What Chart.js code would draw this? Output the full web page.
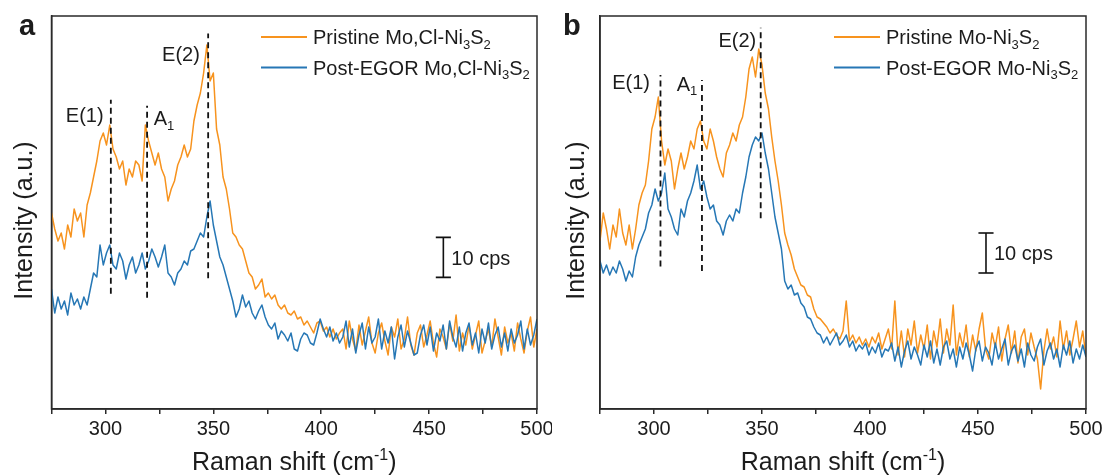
<!DOCTYPE html>
<html>
<head>
<meta charset="utf-8">
<script src="https://cdn.jsdelivr.net/npm/chart.js@4.4.1/dist/chart.umd.min.js"></script>
<style>
html,body{margin:0;padding:0;background:#fff;}
#wrap{position:relative;width:1107px;height:475px;overflow:hidden;background:#fff;}
#pa{position:absolute;left:0;top:0;width:552px;height:475px;background:#fff;}
#pb{position:absolute;left:552px;top:0;width:555px;height:475px;background:#fff;}
canvas{display:block;}
</style>
</head>
<body>
<div id="wrap">
  <div id="pa"><canvas id="ca" width="552" height="475"></canvas></div>
  <div id="pb"><canvas id="cb" width="555" height="475"></canvas></div>
</div>
<script>
// ---------------- DATA ----------------
const ramanShift = [275, 276.5, 278, 279.5, 281, 282.5, 284, 285.5, 287, 288.5,
  290, 291.5, 293, 294.5, 296, 297.5, 299, 300.5, 302, 303.5,
  305, 306.5, 308, 309.5, 311, 312.5, 314, 315.5, 317, 318.5,
  320, 321.5, 323, 324.5, 326, 327.5, 329, 330.5, 332, 333.5,
  335, 336.5, 338, 339.5, 341, 342.5, 344, 345.5, 347, 348.5,
  350, 351.5, 353, 354.5, 356, 357.5, 359, 360.5, 362, 363.5,
  365, 366.5, 368, 369.5, 371, 372.5, 374, 375.5, 377, 378.5,
  380, 381.5, 383, 384.5, 386, 387.5, 389, 390.5, 392, 393.5,
  395, 396.5, 398, 399.5, 401, 402.5, 404, 405.5, 407, 408.5,
  410, 411.5, 413, 414.5, 416, 417.5, 419, 420.5, 422, 423.5,
  425, 426.5, 428, 429.5, 431, 432.5, 434, 435.5, 437, 438.5,
  440, 441.5, 443, 444.5, 446, 447.5, 449, 450.5, 452, 453.5,
  455, 456.5, 458, 459.5, 461, 462.5, 464, 465.5, 467, 468.5,
  470, 471.5, 473, 474.5, 476, 477.5, 479, 480.5, 482, 483.5,
  485, 486.5, 488, 489.5, 491, 492.5, 494, 495.5, 497, 498.5, 500];

// Panel a (Mo,Cl-Ni3S2), intensity in cps (arbitrary offset)
const pristineA = [49, 45, 42, 44, 40, 46, 43, 50, 47, 49,
  43, 51, 54, 58, 62, 67, 69, 66, 71, 65,
  63, 60, 62, 56, 60, 58, 62, 61, 57, 71,
  67, 64, 61, 64, 60, 58, 52, 55, 57, 61,
  63, 66, 63, 65, 72, 76, 79, 84, 91, 82,
  84, 70, 66, 58, 55, 50, 44, 43, 41, 40,
  37, 34, 33, 30, 31, 32.5, 28, 29, 27.5, 28.5,
  26, 25, 26, 24, 23.5, 24.5, 22.5, 23, 21, 22,
  20.5, 19, 21.5, 22, 19.5, 20.5, 18, 20, 17.5, 19,
  20, 15, 22, 17.5, 14.5, 21, 16, 19.5, 23, 16.5,
  14, 19, 21.5, 17, 13.5, 20.5, 18, 22.5, 15, 17.5,
  23, 16, 13.5, 19, 21, 15.5, 18.5, 22, 16.5, 13,
  20, 18, 15, 21.5, 17, 23.5, 14.5, 19, 16, 21,
  15, 18.5, 22, 14, 17, 20, 15.5, 22.5, 18, 13.5,
  20.5, 16.5, 19, 14.5, 21.5, 17.5, 14, 19.5, 23, 15.5, 20];
const postA = [30, 24, 28, 25, 27, 23.5, 29, 26, 27.5, 25,
  28, 26, 30, 34, 33, 41, 36, 39, 41, 36,
  35, 39, 37, 32.5, 36, 38, 34, 36, 39, 35,
  37, 40, 38, 35.5, 38, 41, 34, 33, 31, 34,
  35, 37, 36, 39.5, 40, 42, 44, 43, 48, 52,
  46, 42, 38, 36, 33, 30, 27, 23, 25, 28.5,
  25.5, 27, 24, 22.5, 24.5, 26, 23, 21, 20, 21.5,
  17.5, 19.5, 18.5, 17, 19, 15, 14.5, 17.5, 19, 18.5,
  16.5, 16, 19, 22.5, 20, 18, 20.5, 17, 19, 16.5,
  18, 22, 15.5, 20, 14, 18.5, 21.5, 15, 20.5, 16.5,
  18, 22.5, 15, 19.5, 16.5, 20.5, 12.5, 18, 21, 15.5,
  19.5, 16.5, 13.5, 14, 18.5, 21, 16, 20.5, 14.5, 19,
  17, 21, 15, 22, 18, 15.5, 20.5, 14.5, 19, 21.5,
  16, 19, 14, 20, 16.5, 21.5, 15, 18.5, 20.5, 15.5,
  19, 14.5, 20, 16.5, 18.5, 22, 15, 20, 16, 18.5, 22.5];

// Panel b (Mo-Ni3S2)
const pristineB = [42, 49, 45, 40, 46, 43, 50, 44, 41, 46,
  40, 45, 51, 54, 56, 62, 70, 73, 78, 67,
  61, 65, 62, 55, 60, 64, 60, 63, 67, 65,
  70, 72, 67, 65, 70, 67, 63, 60, 58, 64,
  66, 69, 67, 71, 73, 78, 85, 88, 83, 90,
  86, 79, 75, 68, 62, 57, 51, 44, 41, 38.5,
  35, 33, 31, 30.5, 28.5, 28, 25, 23, 22.5, 21.5,
  20.5, 19, 20, 18.5, 17.5, 19.5, 27, 17, 18.5, 16.5,
  18, 16, 17.5, 15.5, 18, 16.5, 19, 15, 17.5, 20,
  15, 27, 13.5, 19.5, 13, 20, 16, 22, 14, 18.5,
  15, 21, 12.5, 19.5, 15.5, 22.5, 14, 20, 16, 26,
  13.5, 19, 15.5, 21, 13, 18.5, 14.5, 20, 24, 15,
  12.5, 19, 15.5, 20.5, 12, 17.5, 21, 14, 19.5, 11.5,
  18, 20, 13.5, 19, 15.5, 12.5, 5, 14.5, 20, 15,
  18, 13, 22, 15, 19.5, 13.5, 17.5, 22, 15.5, 19.5, 13];
const postB = [37, 34, 36, 33.5, 35.5, 34, 37, 35, 32, 34.5,
  33, 38, 41, 43, 45, 49, 51, 55, 52, 54,
  59, 50, 48, 45, 43.5, 50, 48, 52, 54, 57,
  61, 55, 57, 53, 50, 51, 47, 46, 43.5, 47,
  48.5, 47, 50, 49, 54, 58, 63, 66, 68, 67,
  69, 64, 60, 54, 48, 44, 40, 32, 30, 31,
  28.5, 29, 26.5, 25.5, 23, 22.5, 20.5, 19, 18.5, 16.5,
  18, 16, 17.5, 19, 16, 17, 18.5, 15.5, 17, 14.5,
  16, 15, 16.5, 13.5, 15.5, 14, 16.5, 13, 15, 14.5,
  16.5, 12, 15.5, 10.5, 14.5, 17, 12.5, 15.5, 13.5, 11,
  16, 13, 17, 11.5, 15, 11, 15.5, 17, 12.5, 15,
  10.5, 15.5, 12.5, 16.5, 13.5, 9.5, 15, 17, 12, 15.5,
  14, 11, 16.5, 12.5, 15, 17.5, 11, 14.5, 16, 12,
  15, 10.5, 16.5, 13.5, 12, 15.5, 17.5, 11, 14.5, 16.5,
  12.5, 15, 10.5, 16, 13.5, 17, 11.5, 15, 12.5, 16, 13];

// Series names (rich text parts: [text, 0 normal / 1 subscript])
const namesA = [
  [['Pristine Mo,Cl-Ni', 0], ['3', 1], ['S', 0], ['2', 1]],
  [['Post-EGOR Mo,Cl-Ni', 0], ['3', 1], ['S', 0], ['2', 1]]
];
const namesB = [
  [['Pristine Mo-Ni', 0], ['3', 1], ['S', 0], ['2', 1]],
  [['Post-EGOR Mo-Ni', 0], ['3', 1], ['S', 0], ['2', 1]]
];

// Axis ticks
const xTickValues = [275, 300, 325, 350, 375, 400, 425, 450, 475, 500];
const xTickLabels = ['', '300', '', '350', '', '400', '', '450', '', '500'];

// Peak markers (Raman shift, dashed line bottom/top in cps units), labels
const peakNames = [[['E(1)', 0]], [['A', 0], ['1', 1]], [['E(2)', 0]]];
const peakShiftA = [302.5, 319.3, 347.6];
const peakLowA = [28.8, 27.8, 32.7];
const peakHighA = [77.3, 75.8, 93.9];
const peakLabelXA = [290.4, 327.1, 335.0];
const peakLabelYA = [73.5, 72.75, 88.9];

const peakShiftB = [303.0, 322.2, 349.4];
const peakLowB = [35.6, 34.5, 47.7];
const peakHighB = [83.5, 82.25, 95.3];
const peakLabelXB = [289.4, 315.3, 338.6];
const peakLabelYB = [81.8, 81.4, 92.25];

// 10 cps scale bar: [shift, low, high]
const scaleBarA = [456.6, 32.9, 42.9];
const scaleBarB = [453.7, 34.0, 44.0];
const scaleBarText = '10 cps';

// ---------------- STYLE ----------------
const ORANGE = '#F7931E';
const BLUE = '#2677B5';
const INK = '#1c1c1c';
const FONT = "'Liberation Sans', Arial, Helvetica, sans-serif";

function richWidth(ctx, parts, size) {
  let w = 0;
  parts.forEach(([t, k]) => {
    ctx.font = (k ? Math.round(size * 0.65) : size) + 'px ' + FONT;
    w += ctx.measureText(t).width;
  });
  return w;
}
function drawRich(ctx, parts, x, y, size, align) {
  const w = richWidth(ctx, parts, size);
  let cx = align === 'center' ? x - w / 2 : (align === 'right' ? x - w : x);
  ctx.textBaseline = 'alphabetic';
  ctx.textAlign = 'left';
  const base = y + size * 0.36;
  parts.forEach(([t, k]) => {
    const s = k ? Math.round(size * 0.65) : size;
    ctx.font = s + 'px ' + FONT;
    let dy = 0;
    if (k === 1) dy = size * 0.22;
    if (k === 2) dy = -size * 0.4;
    ctx.fillText(t, cx, base + dy);
    cx += ctx.measureText(t).width;
  });
}

const panelPlugin = {
  id: 'panelDecor',
  afterDraw(chart, args, o) {
    const {ctx, chartArea: ca, scales: {x, y}} = chart;
    ctx.save();
    ctx.strokeStyle = '#2a2a2a';
    ctx.lineWidth = 1.5;
    ctx.strokeRect(ca.left, ca.top, ca.right - ca.left, ca.bottom - ca.top);
    ctx.fillStyle = INK;
    ctx.font = 'bold 29px ' + FONT;
    ctx.textAlign = 'left';
    ctx.textBaseline = 'alphabetic';
    ctx.fillText(o.letter, o.letterX, 35);
    drawRich(ctx, [['Raman shift (cm', 0], ['-1', 2], [')', 0]], (ca.left + ca.right) / 2, 461, 25, 'center');
    ctx.save();
    ctx.translate(23, (ca.top + ca.bottom) / 2 + 8);
    ctx.rotate(-Math.PI / 2);
    drawRich(ctx, [['Intensity (a.u.)', 0]], 0, 0, 25, 'center');
    ctx.restore();
    peakNames.forEach((parts, i) => {
      drawRich(ctx, parts, x.getPixelForValue(o.lx[i]), y.getPixelForValue(o.ly[i]), 20, 'center');
    });
    drawRich(ctx, [[scaleBarText, 0]], x.getPixelForValue(o.bar[0]) + 8,
      y.getPixelForValue((o.bar[1] + o.bar[2]) / 2), 20, 'left');
    const cols = [ORANGE, BLUE];
    o.names.forEach((parts, i) => {
      const yy = 37 + i * 30.5;
      ctx.strokeStyle = cols[i];
      ctx.lineWidth = 2;
      ctx.beginPath();
      ctx.moveTo(o.legX, yy);
      ctx.lineTo(o.legX + 46, yy);
      ctx.stroke();
      ctx.fillStyle = INK;
      drawRich(ctx, parts, o.legX + 52, yy, 20, 'left');
    });
    ctx.restore();
  }
};

function makeChart(id, pristine, post, names, pk, bar, letter, letterX, plotLeft, padRight, legX) {
  const spectrum = (vals) => ramanShift.map((s, i) => ({x: s, y: vals[i]}));
  const datasets = [
    {label: 'post', data: spectrum(post), borderColor: BLUE, borderWidth: 1.5, order: 2},
    {label: 'pristine', data: spectrum(pristine), borderColor: ORANGE, borderWidth: 1.5, order: 3}
  ];
  pk.shift.forEach((s, i) => {
    datasets.push({label: 'peak' + i, data: [{x: s, y: pk.low[i]}, {x: s, y: pk.high[i]}],
      borderColor: '#111', borderWidth: 1.8, borderDash: [6, 4], order: 0});
  });
  const cap = 3.5;
  datasets.push({label: 'bar', data: [{x: bar[0], y: bar[1]}, {x: bar[0], y: bar[2]}], borderColor: '#111', borderWidth: 1.6, order: 0});
  datasets.push({label: 'barLo', data: [{x: bar[0] - cap, y: bar[1]}, {x: bar[0] + cap, y: bar[1]}], borderColor: '#111', borderWidth: 1.6, order: 0});
  datasets.push({label: 'barHi', data: [{x: bar[0] - cap, y: bar[2]}, {x: bar[0] + cap, y: bar[2]}], borderColor: '#111', borderWidth: 1.6, order: 0});

  return new Chart(document.getElementById(id), {
    type: 'line',
    data: {datasets},
    options: {
      responsive: false,
      animation: false,
      events: [],
      layout: {padding: {top: 16, right: padRight, bottom: 0, left: 0}},
      elements: {point: {radius: 0}, line: {tension: 0, fill: false, borderJoinStyle: 'round'}},
      plugins: {legend: {display: false}, tooltip: {enabled: false},
        panelDecor: {letter, letterX, lx: pk.lx, ly: pk.ly, bar, names, legX}},
      scales: {
        x: {
          type: 'linear', min: 275, max: 500,
          afterBuildTicks: (s) => { s.ticks = xTickValues.map(v => ({value: v})); },
          afterFit: (s) => { s.height = 66; s.paddingLeft = 0; s.paddingRight = 0; },
          ticks: {
            callback: (v) => { const k = xTickValues.indexOf(v); return k >= 0 ? xTickLabels[k] : ''; },
            font: {family: FONT, size: 20}, color: INK, padding: 3, maxRotation: 0, autoSkip: false
          },
          grid: {display: true, drawOnChartArea: false, drawTicks: true, tickLength: 5, color: '#2a2a2a', lineWidth: 1.5},
          border: {display: true, color: '#2a2a2a', width: 1.5}
        },
        y: {
          type: 'linear', min: 0, max: 98.25,
          afterFit: (s) => { s.width = plotLeft; },
          ticks: {display: false},
          grid: {display: false, drawTicks: false},
          border: {display: true, color: '#2a2a2a', width: 1.5}
        }
      }
    },
    plugins: [panelPlugin]
  });
}

makeChart('ca', pristineA, postA, namesA,
  {shift: peakShiftA, low: peakLowA, high: peakHighA, lx: peakLabelXA, ly: peakLabelYA},
  scaleBarA, 'a', 19, 51.5, 15, 261);
makeChart('cb', pristineB, postB, namesB,
  {shift: peakShiftB, low: peakLowB, high: peakHighB, lx: peakLabelXB, ly: peakLabelYB},
  scaleBarB, 'b', 11, 48, 21, 282);
</script>
</body>
</html>
